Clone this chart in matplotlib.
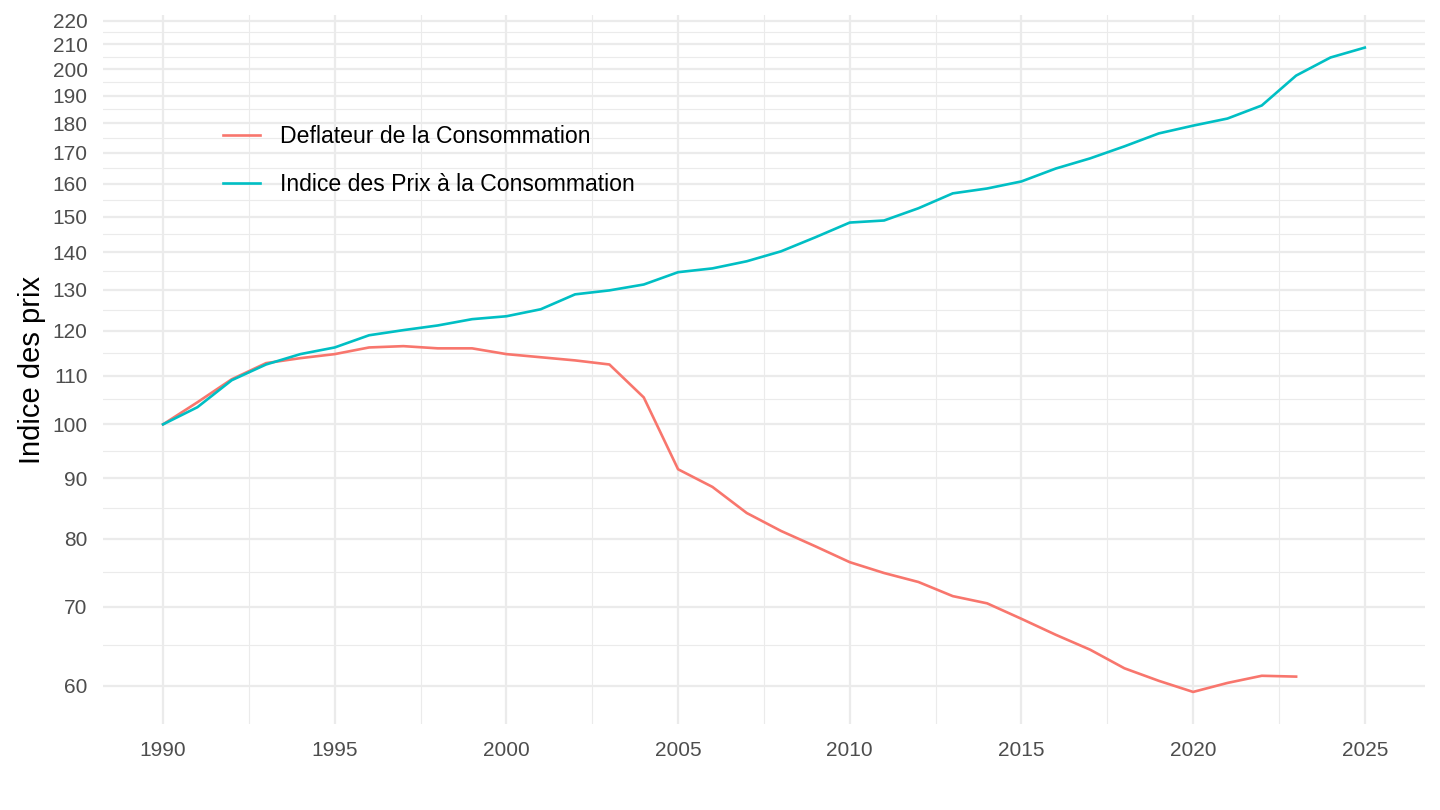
import numpy as np
import matplotlib
matplotlib.use("Agg")
import matplotlib.pyplot as plt
from matplotlib.ticker import FixedLocator, FixedFormatter, NullFormatter

plt.rcParams.update({
    "font.family": ["Liberation Sans", "DejaVu Sans"],
})

# data
years = list(range(1990, 2026))
deflateur = [100.0, 104.4, 109.2, 112.7, 113.8, 114.7, 116.2, 116.5, 116.0, 116.0,
             114.7, 114.0, 113.3, 112.4, 105.4, 91.6, 88.5, 84.1, 81.2, 78.8,
             76.4, 74.8, 73.5, 71.5, 70.5, 68.4, 66.3, 64.4, 62.1, 60.6,
             59.3, 60.35, 61.2, 61.1]
ipc = [100.0, 103.4, 109.0, 112.4, 114.7, 116.2, 119.0, 120.2, 121.3, 122.8,
       123.5, 125.2, 128.9, 129.9, 131.4, 134.6, 135.6, 137.5, 140.2, 144.1,
       148.3, 148.9, 152.5, 157.0, 158.5, 160.7, 164.8, 168.1, 172.1, 176.5,
       179.2, 181.7, 186.4, 197.6, 204.7, 208.7]
y_breaks = list(range(60, 230, 10))
x_breaks = [1990, 1995, 2000, 2005, 2010, 2015, 2020, 2025]

red = "#F8766D"
cyan = "#00BFC4"
grid = "#EBEBEB"

fig = plt.figure(figsize=(14.4, 8.1), dpi=100)
ax = fig.add_axes([0.0715, 0.106, 0.918, 0.875])

ax.plot(years[:len(deflateur)], deflateur, color=red, lw=1.9, label="Deflateur de la Consommation")
ax.plot(years, ipc, color=cyan, lw=1.9, label="Indice des Prix à la Consommation")

ax.set_yscale("log")
lo, hi = np.log(min(deflateur)), np.log(max(ipc))
pad = (hi - lo) * 0.05
ax.set_ylim(np.exp(lo - pad), np.exp(hi + pad))
ax.set_xlim(1990 - 1.75, 2025 + 1.75)

ax.yaxis.set_major_locator(FixedLocator(y_breaks))
ax.yaxis.set_minor_locator(FixedLocator([b + 5 for b in y_breaks]))
ax.yaxis.set_major_formatter(FixedFormatter([str(b) for b in y_breaks]))
ax.yaxis.set_minor_formatter(NullFormatter())
ax.xaxis.set_major_locator(FixedLocator(x_breaks))
ax.xaxis.set_minor_locator(FixedLocator([b + 2.5 for b in x_breaks[:-1]] + [1987.5]))

ax.grid(which="major", color=grid, lw=1.6)
ax.grid(which="minor", color=grid, lw=0.8)
ax.set_axisbelow(True)
for s in ax.spines.values():
    s.set_visible(False)
ax.tick_params(which="both", length=0, labelsize=15, labelcolor="#4D4D4D")
ax.tick_params(axis="x", pad=12)
ax.tick_params(axis="y", pad=11)

ax.set_ylabel("Indice des prix", fontsize=21, labelpad=5)

ax.legend(loc="upper left", bbox_to_anchor=(0.075, 0.8745), frameon=False, fontsize=16.6,
          handlelength=1.6, handletextpad=0.9, labelspacing=1.1)

fig.savefig("out.png", dpi=100)
